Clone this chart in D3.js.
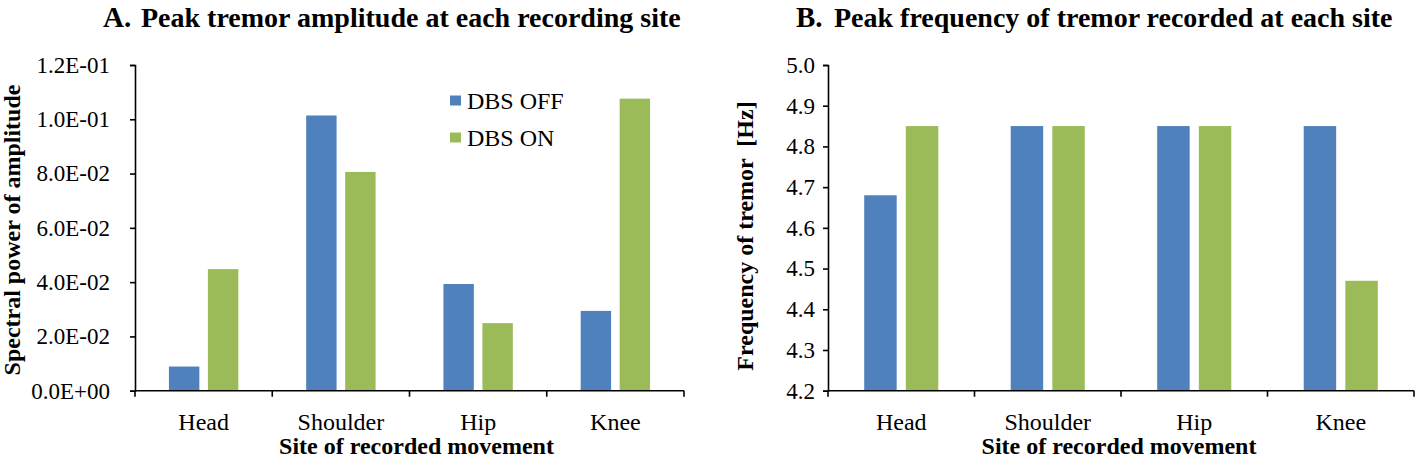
<!DOCTYPE html>
<html>
<head>
<meta charset="utf-8">
<script src="https://cdn.jsdelivr.net/npm/d3@7"></script>
<style>
  body { margin: 0; background: #fff; }
  text { font-family: "Liberation Serif", "Times New Roman", serif !important; fill: #000; }
</style>
</head>
<body>
<div id="chart"></div>
<script>
"use strict";

// data
var sites = ["Head", "Shoulder", "Hip", "Knee"];
var seriesNames = ["DBS OFF", "DBS ON"];
var seriesColors = ["#4F81BD", "#9BBB59"];

var ampOff = [0.0089, 0.1014, 0.0393, 0.0294];
var ampOn = [0.0448, 0.0806, 0.0249, 0.1076];
var ampTicks = [0, 0.02, 0.04, 0.06, 0.08, 0.10, 0.12];
var ampTickLabels = ["0.0E+00", "2.0E-02", "4.0E-02", "6.0E-02", "8.0E-02", "1.0E-01", "1.2E-01"];

var freqOff = [4.68, 4.85, 4.85, 4.85];
var freqOn = [4.85, 4.85, 4.85, 4.47];
var freqTicks = [4.2, 4.3, 4.4, 4.5, 4.6, 4.7, 4.8, 4.9, 5.0];
var freqTickLabels = ["4.2", "4.3", "4.4", "4.5", "4.6", "4.7", "4.8", "4.9", "5.0"];

var width = 1418, height = 459;

var svg = d3.select("#chart").append("svg")
  .attr("width", width)
  .attr("height", height);

var drawPanel = function(p) {
  var x = d3.scaleBand().domain(sites).range([p.left, p.right]).padding(0);
  var inner = d3.scaleBand().domain(seriesNames).range([0, x.bandwidth()])
    .paddingInner(0.22).paddingOuter(0.87);
  var y = d3.scaleLinear().domain(p.domain).range([p.bottom, p.top]);

  var g = svg.append("g");

  // bars
  var rows = sites.map(function(s, i) {
    return [{ site: s, k: 0, v: p.off[i] }, { site: s, k: 1, v: p.on[i] }];
  });
  g.selectAll(".site")
    .data(rows)
    .enter().append("g")
    .attr("class", "site")
    .selectAll("rect")
    .data(function(d) { return d; })
    .enter().append("rect")
    .attr("x", function(d) { return x(d.site) + inner(seriesNames[d.k]); })
    .attr("width", inner.bandwidth())
    .attr("y", function(d) { return y(d.v); })
    .attr("height", function(d) { return y(p.domain[0]) - y(d.v); })
    .attr("fill", function(d) { return seriesColors[d.k]; });

  // y axis
  var yAxis = d3.axisLeft(y)
    .tickValues(p.ticks)
    .tickFormat(function(d, i) { return p.tickLabels[i]; })
    .tickSizeOuter(0)
    .tickSize(5)
    .tickPadding(p.tickPad);
  var ya = g.append("g")
    .attr("transform", "translate(" + p.left + ",0)")
    .call(yAxis)
    .attr("font-family", "Liberation Serif, serif")
    .attr("font-size", 23);
  ya.select(".domain").attr("stroke-width", 1.6);
  ya.selectAll(".tick line").attr("stroke-width", 1.6);

  // x axis, Excel style: ticks between categories
  var xa = g.append("g");
  xa.append("line")
    .attr("x1", p.left).attr("x2", p.right)
    .attr("y1", p.bottom).attr("y2", p.bottom)
    .attr("stroke", "#000").attr("stroke-width", 1.6);
  var edges = sites.map(function(s) { return x(s); }).concat([p.right]);
  xa.selectAll(".xtick")
    .data(edges)
    .enter().append("line")
    .attr("class", "xtick")
    .attr("x1", function(d) { return d; }).attr("x2", function(d) { return d; })
    .attr("y1", p.bottom).attr("y2", p.bottom + 6)
    .attr("stroke", "#000").attr("stroke-width", 1.6);
  xa.selectAll(".xlabel")
    .data(sites)
    .enter().append("text")
    .attr("class", "xlabel")
    .attr("x", function(d) { return x(d) + x.bandwidth() / 2; })
    .attr("y", 430)
    .attr("text-anchor", "middle")
    .style("font-size", "24px")
    .text(function(d) { return d; });

  // axis titles
  g.append("text")
    .attr("x", (p.left + p.right) / 2 + p.xTitleShift)
    .attr("y", 454)
    .attr("text-anchor", "middle")
    .style("font-size", "24px")
    .style("font-weight", "bold")
    .text("Site of recorded movement");

  g.append("text")
    .attr("transform", "translate(" + p.yTitleX + "," + p.yTitleY + ") rotate(-90)")
    .attr("text-anchor", "middle")
    .style("font-size", "24px")
    .style("font-weight", "bold")
    .style("white-space", "pre")
    .text(p.yTitle);

  // panel title
  g.append("text")
    .attr("x", p.letterX)
    .attr("y", 27)
    .style("font-size", "29px")
    .style("font-weight", "bold")
    .text(p.letter);
  g.append("text")
    .attr("x", p.titleX)
    .attr("y", 27)
    .style("font-size", "28px")
    .style("font-weight", "bold")
    .text(p.title);

  return g;
};

var panelA = drawPanel({
  left: 135, right: 684, top: 65, bottom: 390.7,
  domain: [0, 0.12], ticks: ampTicks, tickLabels: ampTickLabels, tickPad: 20,
  off: ampOff, on: ampOn,
  yTitle: "Spectral power of amplitude", yTitleX: 20, yTitleY: 230,
  xTitleShift: 7,
  letter: "A.", letterX: 103, title: "Peak tremor amplitude at each recording site", titleX: 141
});

drawPanel({
  left: 828, right: 1414, top: 65, bottom: 390.7,
  domain: [4.2, 5.0], ticks: freqTicks, tickLabels: freqTickLabels, tickPad: 8,
  off: freqOff, on: freqOn,
  yTitle: "Frequency of tremor  [Hz]", yTitleX: 753, yTitleY: 236,
  xTitleShift: -2,
  letter: "B.", letterX: 796, title: "Peak frequency of tremor recorded at each site", titleX: 834
});

// legend (panel A only)
var legend = panelA.append("g").attr("class", "legend");
seriesNames.forEach(function(name, i) {
  var ly = 100 + i * 37;
  legend.append("rect")
    .attr("x", 450).attr("y", ly - 4.5)
    .attr("width", 11).attr("height", 10)
    .attr("fill", seriesColors[i]);
  legend.append("text")
    .attr("x", 467).attr("y", ly + 9)
    .style("font-size", "24px")
    .text(name);
});
</script>
</body>
</html>
